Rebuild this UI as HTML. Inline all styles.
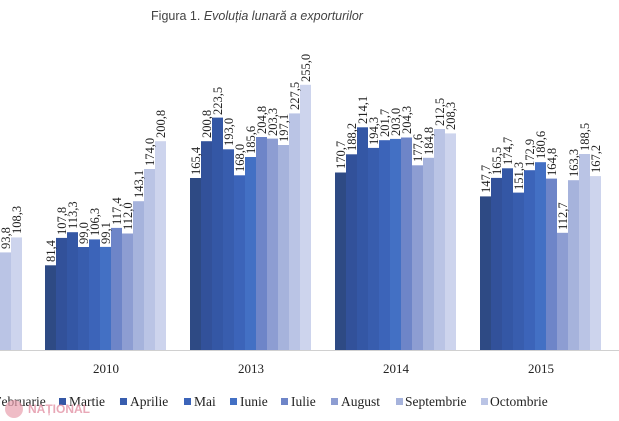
<!DOCTYPE html>
<html><head><meta charset="utf-8"><style>
body{margin:0;background:#fff;width:619px;height:421px;overflow:hidden}
svg{display:block}
.l{font-family:"Liberation Serif",serif;font-size:12.5px;fill:#222}
.y{font-family:"Liberation Serif",serif;font-size:13px;fill:#222}
.g{font-family:"Liberation Serif",serif;font-size:13.5px;fill:#222}
</style></head><body>
<svg width="619" height="421" viewBox="0 0 619 421" xmlns="http://www.w3.org/2000/svg">
<defs>
<style>
.c0{fill:#2e4a84}.c1{fill:#32519a}.c2{fill:#3457a5}.c3{fill:#385dae}.c4{fill:#3c64b9}.c5{fill:#4370c4}.c6{fill:#6e85c8}.c7{fill:#8d9dd2}.c8{fill:#a6b3dc}.c9{fill:#bac4e5}.c10{fill:#cdd4ed}
</style>
</defs>
<text x="257" y="20" text-anchor="middle" font-family="Liberation Sans, sans-serif" font-size="12.5" fill="#444">Figura 1. <tspan font-style="italic">Evoluția lunară a exporturilor</tspan></text>
<line x1="0" y1="350.5" x2="619" y2="350.5" stroke="#d0d0d0"/>
<rect class="c9" x="0" y="252.4" width="11" height="97.6"/><rect class="c10" x="11" y="237.4" width="11" height="112.6"/>
<text class="l" transform="translate(10,249) rotate(-90)">93,8</text>
<text class="l" transform="translate(21,234) rotate(-90)">108,3</text>
<g>
<rect class="c0" x="45" y="265.3" width="11" height="84.7"/>
<rect class="c1" x="56" y="237.9" width="11" height="112.1"/>
<rect class="c2" x="67" y="232.2" width="11" height="117.8"/>
<rect class="c3" x="78" y="247" width="11" height="103"/>
<rect class="c4" x="89" y="239.4" width="11" height="110.6"/>
<rect class="c5" x="100" y="246.9" width="11" height="103.1"/>
<rect class="c6" x="111" y="227.9" width="11" height="122.1"/>
<rect class="c7" x="122" y="233.5" width="11" height="116.5"/>
<rect class="c8" x="133" y="201.2" width="11" height="148.8"/>
<rect class="c9" x="144" y="169" width="11" height="181"/>
<rect class="c10" x="155" y="141.2" width="11" height="208.8"/>
<text class="l" transform="translate(55,262) rotate(-90)">81,4</text>
<text class="l" transform="translate(66,235) rotate(-90)">107,8</text>
<text class="l" transform="translate(77,229) rotate(-90)">113,3</text>
<text class="l" transform="translate(88,244) rotate(-90)">99,0</text>
<text class="l" transform="translate(99,236) rotate(-90)">106,3</text>
<text class="l" transform="translate(110,244) rotate(-90)">99,1</text>
<text class="l" transform="translate(121,225) rotate(-90)">117,4</text>
<text class="l" transform="translate(132,230) rotate(-90)">112,0</text>
<text class="l" transform="translate(143,198) rotate(-90)">143,1</text>
<text class="l" transform="translate(154,166) rotate(-90)">174,0</text>
<text class="l" transform="translate(165,138) rotate(-90)">200,8</text>
</g>
<g>
<rect class="c0" x="190" y="178" width="11" height="172"/>
<rect class="c1" x="201" y="141.2" width="11" height="208.8"/>
<rect class="c2" x="212" y="117.6" width="11" height="232.4"/>
<rect class="c3" x="223" y="149.3" width="11" height="200.7"/>
<rect class="c4" x="234" y="175.3" width="11" height="174.7"/>
<rect class="c5" x="245" y="157" width="11" height="193"/>
<rect class="c6" x="256" y="137" width="11" height="213"/>
<rect class="c7" x="267" y="138.6" width="11" height="211.4"/>
<rect class="c8" x="278" y="145" width="11" height="205"/>
<rect class="c9" x="289" y="113.4" width="11" height="236.6"/>
<rect class="c10" x="300" y="84.8" width="11" height="265.2"/>
<text class="l" transform="translate(200,175) rotate(-90)">165,4</text>
<text class="l" transform="translate(211,138) rotate(-90)">200,8</text>
<text class="l" transform="translate(222,115) rotate(-90)">223,5</text>
<text class="l" transform="translate(233,146) rotate(-90)">193,0</text>
<text class="l" transform="translate(244,172) rotate(-90)">168,0</text>
<text class="l" transform="translate(255,154) rotate(-90)">185,6</text>
<text class="l" transform="translate(266,134) rotate(-90)">204,8</text>
<text class="l" transform="translate(277,136) rotate(-90)">203,3</text>
<text class="l" transform="translate(288,142) rotate(-90)">197,1</text>
<text class="l" transform="translate(299,110) rotate(-90)">227,5</text>
<text class="l" transform="translate(310,82) rotate(-90)">255,0</text>
</g>
<g>
<rect class="c0" x="335" y="172.5" width="11" height="177.5"/>
<rect class="c1" x="346" y="154.3" width="11" height="195.7"/>
<rect class="c2" x="357" y="127.3" width="11" height="222.7"/>
<rect class="c3" x="368" y="147.9" width="11" height="202.1"/>
<rect class="c4" x="379" y="140.2" width="11" height="209.8"/>
<rect class="c5" x="390" y="138.9" width="11" height="211.1"/>
<rect class="c6" x="401" y="137.5" width="11" height="212.5"/>
<rect class="c7" x="412" y="165.3" width="11" height="184.7"/>
<rect class="c8" x="423" y="157.8" width="11" height="192.2"/>
<rect class="c9" x="434" y="129" width="11" height="221"/>
<rect class="c10" x="445" y="133.4" width="11" height="216.6"/>
<text class="l" transform="translate(345,169) rotate(-90)">170,7</text>
<text class="l" transform="translate(356,151) rotate(-90)">188,2</text>
<text class="l" transform="translate(367,124) rotate(-90)">214,1</text>
<text class="l" transform="translate(378,145) rotate(-90)">194,3</text>
<text class="l" transform="translate(389,137) rotate(-90)">201,7</text>
<text class="l" transform="translate(400,136) rotate(-90)">203,0</text>
<text class="l" transform="translate(411,134) rotate(-90)">204,3</text>
<text class="l" transform="translate(422,162) rotate(-90)">177,6</text>
<text class="l" transform="translate(433,155) rotate(-90)">184,8</text>
<text class="l" transform="translate(444,126) rotate(-90)">212,5</text>
<text class="l" transform="translate(455,130) rotate(-90)">208,3</text>
</g>
<g>
<rect class="c0" x="480" y="196.4" width="11" height="153.6"/>
<rect class="c1" x="491" y="177.9" width="11" height="172.1"/>
<rect class="c2" x="502" y="168.3" width="11" height="181.7"/>
<rect class="c3" x="513" y="192.6" width="11" height="157.4"/>
<rect class="c4" x="524" y="170.2" width="11" height="179.8"/>
<rect class="c5" x="535" y="162.2" width="11" height="187.8"/>
<rect class="c6" x="546" y="178.6" width="11" height="171.4"/>
<rect class="c7" x="557" y="232.8" width="11" height="117.2"/>
<rect class="c8" x="568" y="180.2" width="11" height="169.8"/>
<rect class="c9" x="579" y="154" width="11" height="196"/>
<rect class="c10" x="590" y="176.1" width="11" height="173.9"/>
<text class="l" transform="translate(490,193) rotate(-90)">147,7</text>
<text class="l" transform="translate(501,175) rotate(-90)">165,5</text>
<text class="l" transform="translate(512,165) rotate(-90)">174,7</text>
<text class="l" transform="translate(523,190) rotate(-90)">151,3</text>
<text class="l" transform="translate(534,167) rotate(-90)">172,9</text>
<text class="l" transform="translate(545,159) rotate(-90)">180,6</text>
<text class="l" transform="translate(556,176) rotate(-90)">164,8</text>
<text class="l" transform="translate(567,230) rotate(-90)">112,7</text>
<text class="l" transform="translate(578,177) rotate(-90)">163,3</text>
<text class="l" transform="translate(589,151) rotate(-90)">188,5</text>
<text class="l" transform="translate(600,173) rotate(-90)">167,2</text>
</g>
<text class="y" x="106" y="373" text-anchor="middle">2010</text>
<text class="y" x="251" y="373" text-anchor="middle">2013</text>
<text class="y" x="396" y="373" text-anchor="middle">2014</text>
<text class="y" x="541" y="373" text-anchor="middle">2015</text>
<text class="g" x="-6" y="406">Februarie</text>
<rect class="c2" x="59" y="398" width="7" height="7"/><text class="g" x="69" y="406">Martie</text>
<rect class="c3" x="120" y="398" width="7" height="7"/><text class="g" x="130" y="406">Aprilie</text>
<rect class="c4" x="184" y="398" width="7" height="7"/><text class="g" x="194" y="406">Mai</text>
<rect class="c5" x="230" y="398" width="7" height="7"/><text class="g" x="240" y="406">Iunie</text>
<rect class="c6" x="281" y="398" width="7" height="7"/><text class="g" x="291" y="406">Iulie</text>
<rect class="c7" x="331" y="398" width="7" height="7"/><text class="g" x="341" y="406">August</text>
<rect class="c8" x="396" y="398" width="7" height="7"/><text class="g" x="405" y="406">Septembrie</text>
<rect class="c9" x="481" y="398" width="7" height="7"/><text class="g" x="490" y="406">Octombrie</text>
<circle cx="14" cy="409" r="9" fill="#e8a0ae" opacity="0.7"/>
<text x="28" y="413" font-family="Liberation Sans, sans-serif" font-weight="bold" font-size="12" fill="#e59aab" opacity="0.85">NAȚIONAL</text>
</svg>
</body></html>
